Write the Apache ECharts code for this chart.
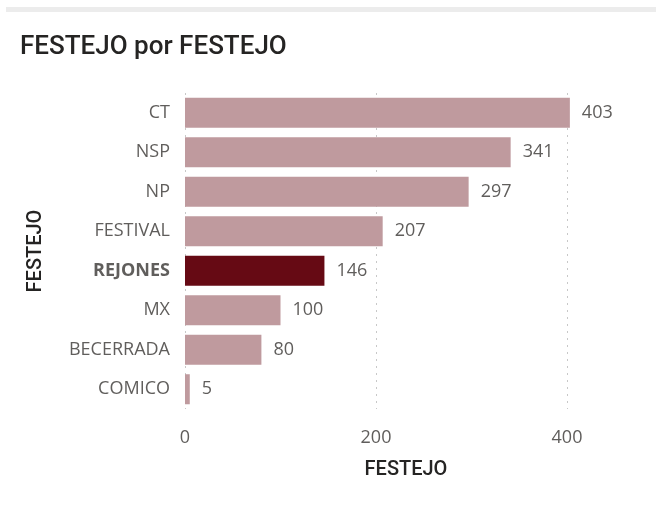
<!DOCTYPE html>
<html>
<head>
<meta charset="utf-8">
<script src="https://cdn.jsdelivr.net/npm/echarts@6/dist/echarts.min.js"></script>
<style>
  html, body { margin: 0; padding: 0; background: #fff; }
  .top-bar { position: absolute; left: 6px; right: 0; top: 7px; height: 5px; background: #ececec; }
  #chart { width: 656px; height: 506px; }
</style>
</head>
<body>
<div class="top-bar"></div>
<div id="chart"></div>
<script>
// datos del gráfico
var categories = ['CT', 'NSP', 'NP', 'FESTIVAL', 'REJONES', 'MX', 'BECERRADA', 'COMICO'];
var values = [403, 341, 297, 207, 146, 100, 80, 5];
var highlighted = 'REJONES';

var chart = echarts.init(document.getElementById('chart'));

var barData = values.map(function (v, i) {
  var hi = categories[i] === highlighted;
  return { value: v, itemStyle: { color: hi ? '#660a14' : '#bf9a9e' } };
});

chart.setOption({
  animation: false,
  title: {
    text: 'FESTEJO por FESTEJO',
    left: 15,
    top: 29,
    textStyle: { fontFamily: 'Roboto', fontSize: 26, fontWeight: 500, color: '#252423' }
  },
  grid: { left: 185, right: 89, top: 93, bottom: 97 },
  xAxis: {
    type: 'value',
    min: 0,
    max: 400,
    interval: 200,
    name: 'FESTEJO',
    nameLocation: 'middle',
    nameGap: 51,
    nameTextStyle: { fontFamily: 'Roboto', fontSize: 20, fontWeight: 500, color: '#252423', padding: [0, 0, 0, 60] },
    axisLine: { show: false },
    axisTick: { show: false },
    axisLabel: { fontFamily: 'Open Sans', fontSize: 18, color: '#605e5c', margin: 20 },
    splitLine: { show: true, lineStyle: { color: '#c8c8c8', type: [2, 5], width: 1 } }
  },
  yAxis: {
    type: 'category',
    data: categories,
    inverse: true,
    name: 'FESTEJO',
    nameLocation: 'middle',
    nameGap: 139,
    nameRotate: 90,
    nameTextStyle: { fontFamily: 'Roboto', fontSize: 20, fontWeight: 500, color: '#252423' },
    axisLine: { show: false },
    axisTick: { show: false },
    axisLabel: {
      fontFamily: 'Open Sans',
      fontSize: 18,
      color: '#605e5c',
      margin: 15,
      formatter: function (v) { return v === highlighted ? '{b|' + v + '}' : v; },
      rich: { b: { fontFamily: 'Open Sans', fontSize: 18, fontWeight: 'bold', color: '#605e5c' } }
    }
  },
  series: [{
    type: 'bar',
    data: barData,
    clip: false,
    barCategoryGap: '24%',
    label: {
      show: true,
      position: 'right',
      distance: 12,
      fontFamily: 'Open Sans',
      fontSize: 18,
      color: '#605e5c'
    }
  }]
});
</script>
</body>
</html>
